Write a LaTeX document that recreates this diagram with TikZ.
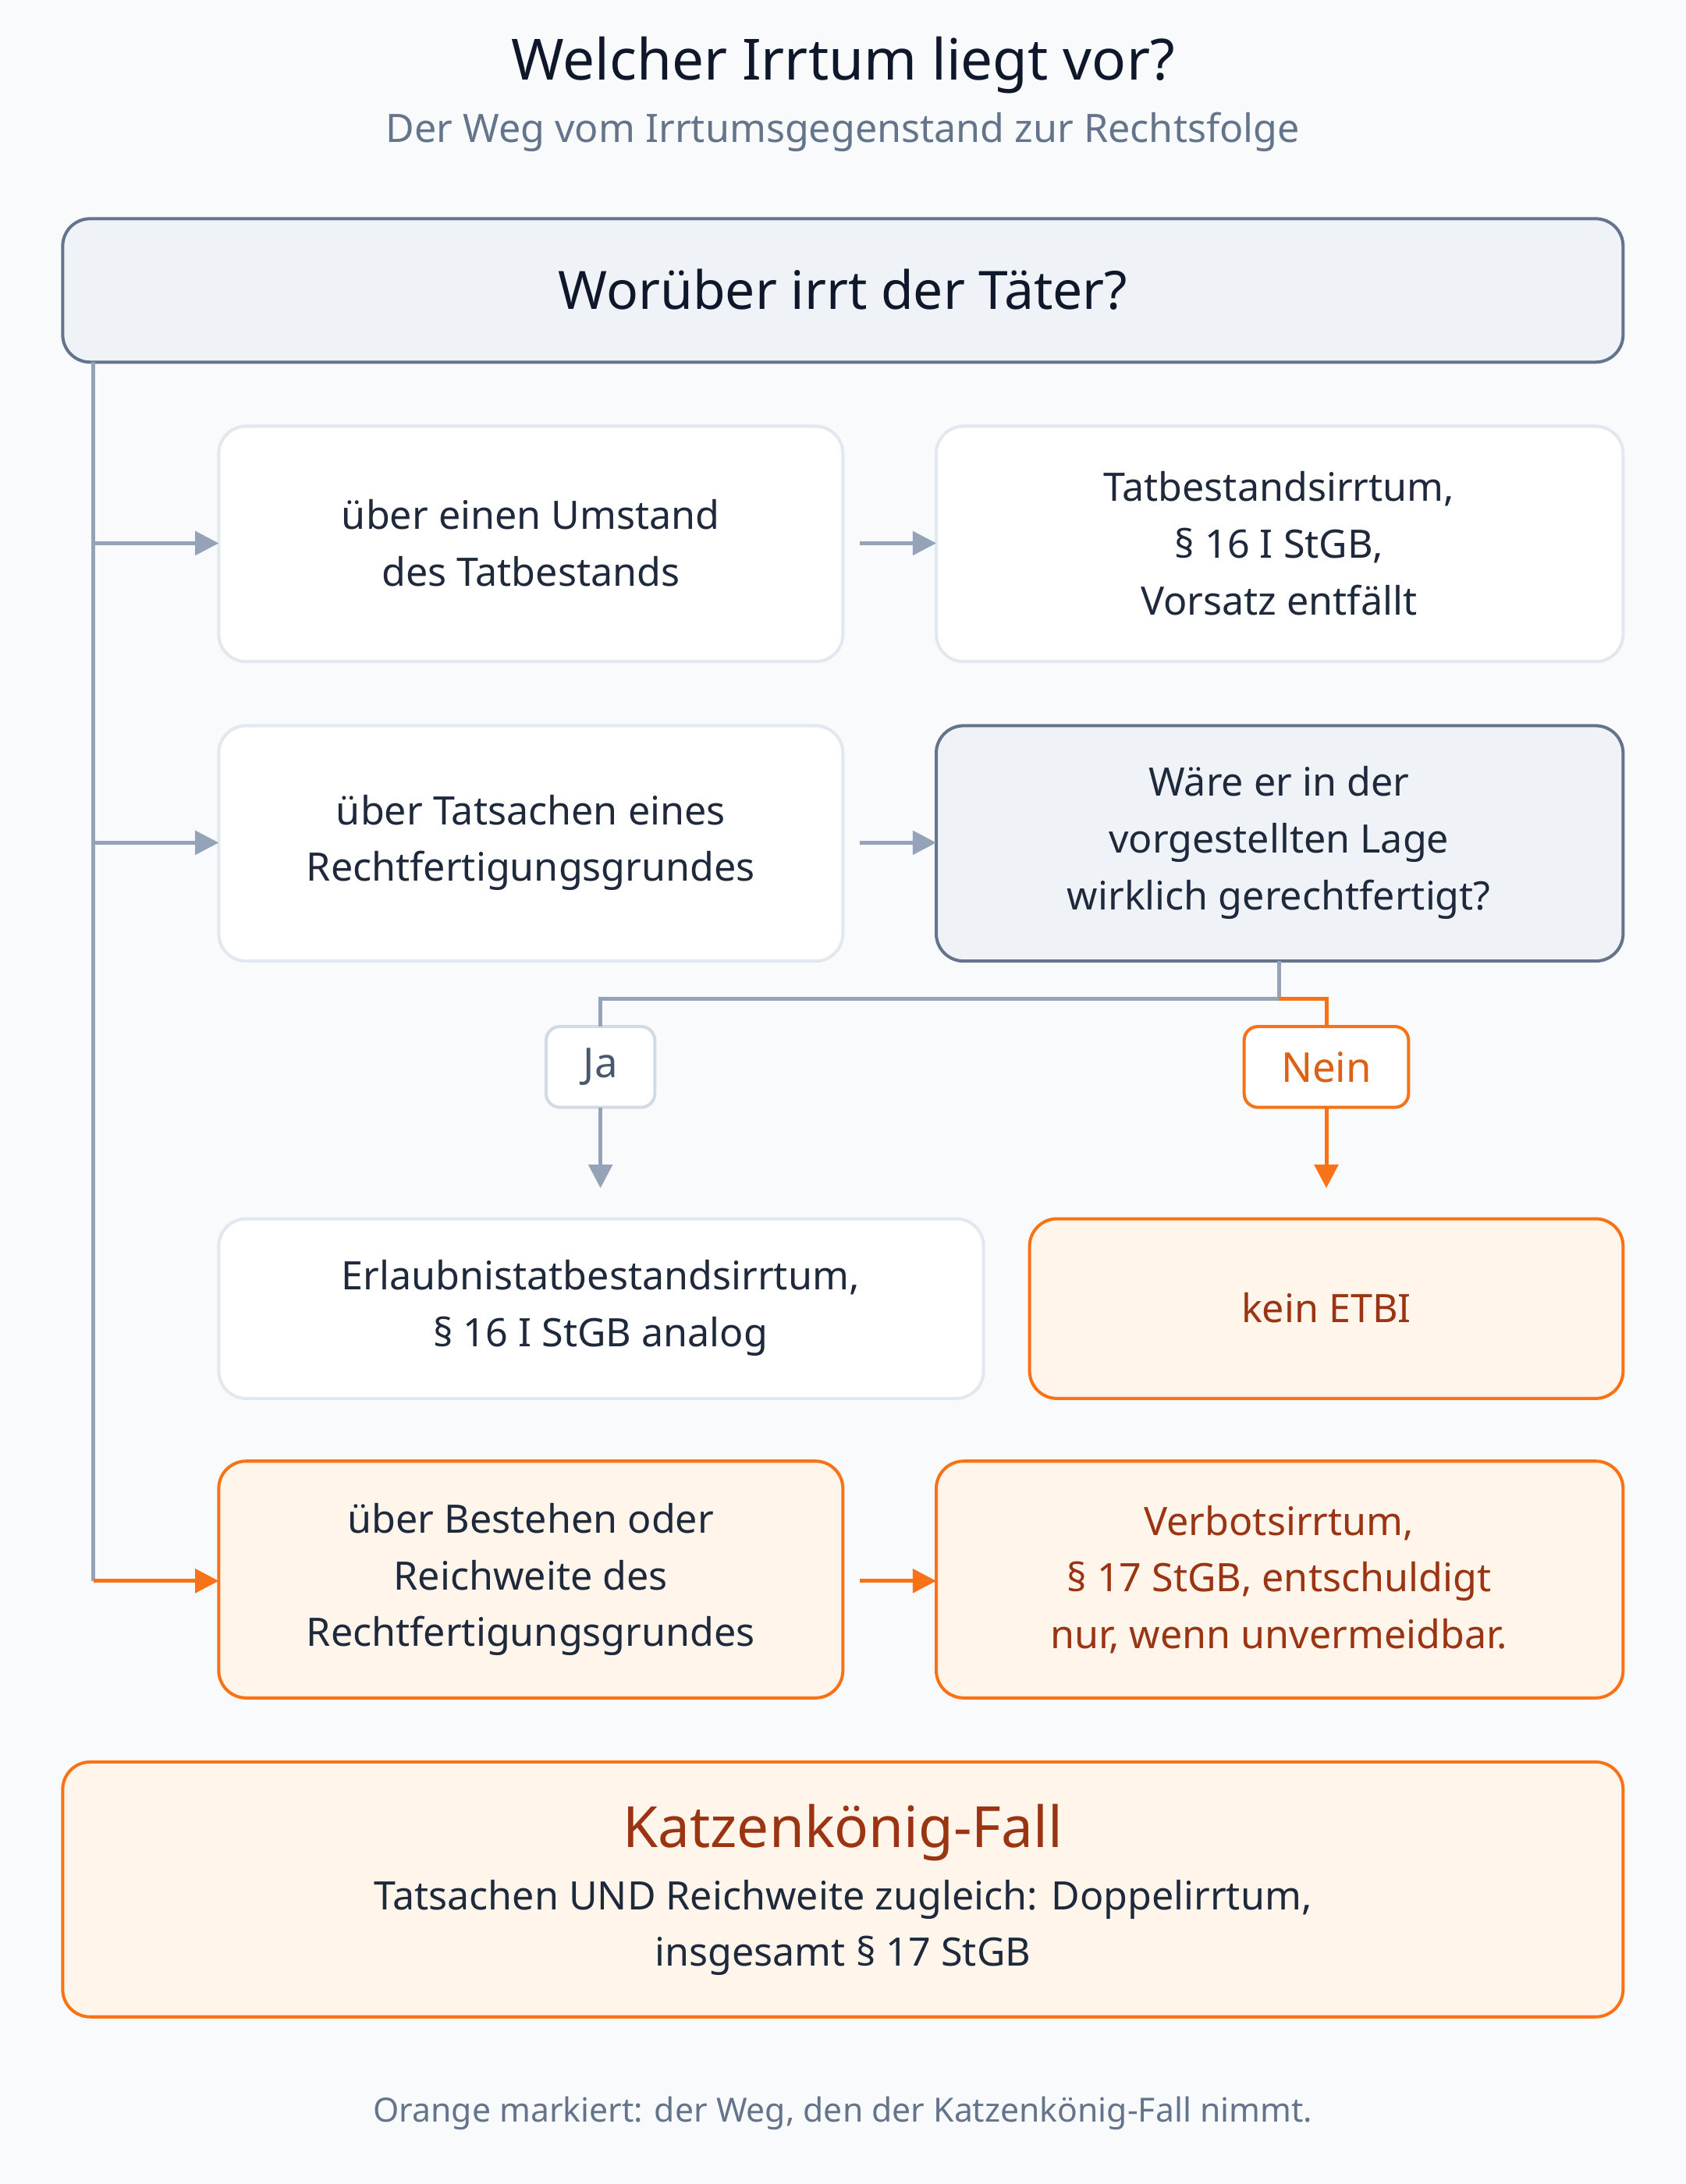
\documentclass[tikz,border=0pt]{standalone}
\usepackage{fontspec}
\setmainfont{Noto Sans}
\usetikzlibrary{arrows.meta}
\definecolor{bg}{HTML}{F8FAFC}
\definecolor{hdr}{HTML}{EFF3F8}
\definecolor{slate}{HTML}{64748B}
\definecolor{light}{HTML}{E2E8F0}
\definecolor{gline}{HTML}{94A3B8}
\definecolor{ink}{HTML}{1E293B}
\definecolor{dark}{HTML}{0F172A}
\definecolor{org}{HTML}{F97316}
\definecolor{ofill}{HTML}{FFF5EB}
\definecolor{otext}{HTML}{9A3412}
\begin{document}
\begin{tikzpicture}[x=0.025cm,y=-0.025cm,
 box/.style={draw=light,line width=1.6pt,fill=white,rounded corners=14pt},
 dbox/.style={draw=slate,line width=1.6pt,fill=hdr,rounded corners=14pt},
 obox/.style={draw=org,line width=1.6pt,fill=ofill,rounded corners=14pt},
 txt/.style={font=\fontsize{20}{29}\selectfont,text=ink,align=center},
 otxt/.style={font=\fontsize{20}{29}\selectfont,text=otext,align=center},
 g/.style={draw=gline,line width=2pt},
 o/.style={draw=org,line width=2pt},
 ga/.style={g,-{Triangle[length=12pt,width=12pt]}},
 oa/.style={o,-{Triangle[length=12pt,width=12pt]}}]
\fill[bg] (0,0) rectangle (1210,1568);
\useasboundingbox (0,0) rectangle (1210,1568);
\node[font=\fontsize{29}{34}\selectfont\bfseries,text=dark] (title) at (605,47) {Welcher Irrtum liegt vor?};
\node[font=\fontsize{20}{24}\selectfont,text=slate] (sub) at (605,95) {Der Weg vom Irrtumsgegenstand zur Rechtsfolge};
\draw[dbox] (45,157) rectangle (1165,260);
\node[font=\fontsize{27}{32}\selectfont\bfseries,text=dark] (q) at (605,208) {Worüber irrt der Täter?};
% row1
\draw[box] (157,306) rectangle (605,475);
\node[txt] (a1) at (381,390) {über einen Umstand\\des Tatbestands};
\draw[box] (672,306) rectangle (1165,475);
\node[txt] (b1) at (918,390) {Tatbestandsirrtum,\\§ 16 I StGB,\\Vorsatz entfällt};
% row2
\draw[box] (157,521) rectangle (605,690);
\node[txt] (a2) at (381,605) {über Tatsachen eines\\Rechtfertigungsgrundes};
\draw[dbox] (672,521) rectangle (1165,690);
\node[txt] (b2) at (918,605) {Wäre er in der\\vorgestellten Lage\\wirklich gerechtfertigt?};
% ja / nein
\draw[draw=light!80!gline,line width=1.6pt,fill=white,rounded corners=7pt] (392,737) rectangle (470,795);
\node[font=\fontsize{21}{24}\selectfont\bfseries,text=slate!70!dark] (ja) at (431,766) {Ja};
\draw[draw=org,line width=1.6pt,fill=white,rounded corners=7pt] (893,737) rectangle (1011,795);
\node[font=\fontsize{21}{24}\selectfont\bfseries,text=org!70!otext] (nein) at (952,766) {Nein};
% row3
\draw[box] (157,875) rectangle (706,1004);
\node[txt] (a3) at (431,939) {Erlaubnistatbestandsirrtum,\\§ 16 I StGB analog};
\draw[obox] (739,875) rectangle (1165,1004);
\node[otxt] (b3) at (952,939) {kein ETBI};
% row4
\draw[obox] (157,1049) rectangle (605,1219);
\node[txt] (a4) at (381,1134) {über Bestehen oder\\Reichweite des\\Rechtfertigungsgrundes};
\draw[obox] (672,1049) rectangle (1165,1219);
\node[otxt] (b4) at (918,1134) {Verbotsirrtum,\\§ 17 StGB, entschuldigt\\nur, wenn unvermeidbar.};
% Katzen
\draw[obox] (45,1265) rectangle (1165,1448);
\node[font=\fontsize{29}{34}\selectfont\bfseries,text=otext] (k) at (605,1316) {Katzenkönig-Fall};
\node[txt] (kt) at (605,1384) {Tatsachen UND Reichweite zugleich: Doppelirrtum,\\insgesamt § 17 StGB};
\node[font=\fontsize{17}{20}\selectfont,text=slate] (foot) at (605,1517) {Orange markiert: der Weg, den der Katzenkönig-Fall nimmt.};
% connectors
\coordinate (t0) at (67,260);
\coordinate (t1) at (67,390);
\coordinate (t2) at (67,605);
\coordinate (t3) at (67,1135);
\draw[g] (t0) -- (t3);
\draw[ga] (t1) -- (157,390);
\draw[ga] (t2) -- (157,605);
\draw[oa] (t3) -- (157,1135);
\draw[ga] (617,390) -- (672,390);
\draw[ga] (617,605) -- (672,605);
\draw[oa] (617,1135) -- (672,1135);
\draw[g] (918,690) -- (918,717) -- (431,717) -- (431,737);
\draw[o] (918,717) -- (952,717) -- (952,737);
\draw[ga] (431,795) -- (431,853);
\draw[oa] (952,795) -- (952,853);
\end{tikzpicture}
\end{document}
